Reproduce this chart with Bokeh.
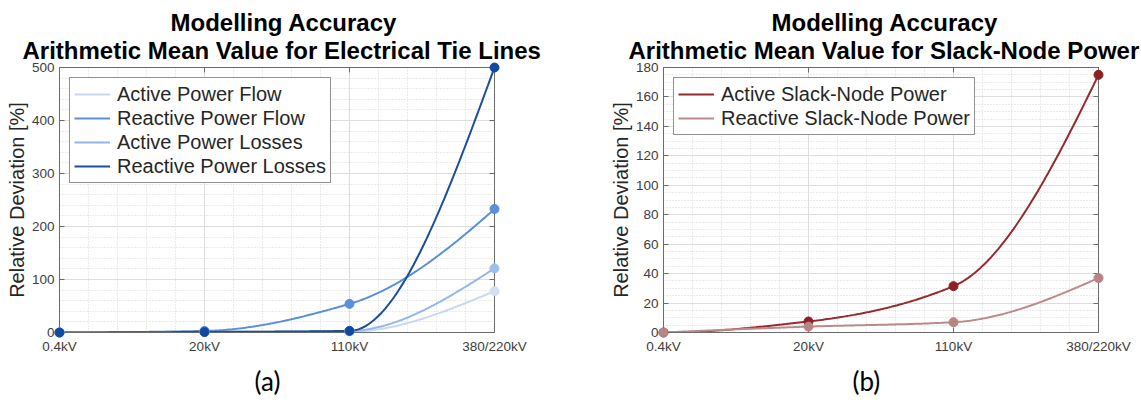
import numpy as np
from bokeh.plotting import figure
from bokeh.models import (Range1d, FixedTicker, SingleIntervalTicker, LinearAxis,
                          Title, Legend, LegendItem, CustomLabelingPolicy)
from bokeh.layouts import row
from bokeh.embed import file_html
from bokeh.resources import INLINE

# ---------------- data ----------------
voltage_levels = ["0.4kV", "20kV", "110kV", "380/220kV"]
level_pos = [0, 1, 2, 3]

# (a) electrical tie lines, relative deviation [%]
active_power_flow = [0.0, 0.5, 1.5, 78.0]
reactive_power_flow = [0.0, 3.0, 54.0, 233.0]
active_power_losses = [0.0, 1.0, 3.0, 121.0]
reactive_power_losses = [0.0, 1.0, 3.0, 500.0]

# (b) slack-node power, relative deviation [%]
active_slack_power = [0.0, 7.5, 31.5, 175.0]
reactive_slack_power = [0.0, 4.0, 7.0, 37.0]

FONT = "Liberation Sans"


def pchip_curve(x, y, n=200):
    """Shape-preserving cubic (as MATLAB pchip) drawn through the data points."""
    x = np.asarray(x, float)
    y = np.asarray(y, float)
    h = np.diff(x)
    delta = np.diff(y) / h
    m = len(x)
    d = np.zeros(m)
    for k in range(1, m - 1):
        if delta[k - 1] * delta[k] > 0:
            w1 = 2 * h[k] + h[k - 1]
            w2 = h[k] + 2 * h[k - 1]
            d[k] = (w1 + w2) / (w1 / delta[k - 1] + w2 / delta[k])

    def end_slope(h0, h1, d0, d1):
        s = ((2 * h0 + h1) * d0 - h0 * d1) / (h0 + h1)
        if np.sign(s) != np.sign(d0):
            s = 0.0
        elif np.sign(d0) != np.sign(d1) and abs(s) > abs(3 * d0):
            s = 3 * d0
        return s

    d[0] = end_slope(h[0], h[1], delta[0], delta[1])
    d[-1] = end_slope(h[-1], h[-2], delta[-1], delta[-2])
    xs = np.linspace(x[0], x[-1], n)
    idx = np.clip(np.searchsorted(x, xs, side="right") - 1, 0, m - 2)
    t = (xs - x[idx]) / h[idx]
    h00 = 2 * t**3 - 3 * t**2 + 1
    h10 = t**3 - 2 * t**2 + t
    h01 = -2 * t**3 + 3 * t**2
    h11 = t**3 - t**2
    ys = h00 * y[idx] + h10 * h[idx] * d[idx] + h01 * y[idx + 1] + h11 * h[idx] * d[idx + 1]
    return xs, ys


def style_axis(ax, show_labels=True):
    ax.axis_line_color = "#6b6b6b"
    ax.axis_line_width = 1
    ax.major_tick_line_color = "#6b6b6b"
    ax.major_tick_in = 5
    ax.major_tick_out = 0
    ax.minor_tick_in = 0
    ax.minor_tick_out = 0
    ax.major_label_text_font = FONT
    ax.major_label_text_color = "#3d3d3d"
    if show_labels:
        ax.major_label_text_font_size = "13.5px"
    else:
        ax.major_label_text_font_size = "0px"
        ax.major_label_standoff = 0
        ax.major_label_policy = CustomLabelingPolicy(code="return new Set()")


def make_fig(width, border_right, ymax, y_step, y_minor,
             title1, title2, t1_off, t2_off, caption, caption_off, series):
    p = figure(width=width, height=412, x_range=Range1d(0, 3), y_range=Range1d(0, ymax),
               output_backend="svg", toolbar_location=None, title_location=None,
               min_border_left=59, min_border_right=border_right,
               min_border_top=67, min_border_bottom=80)
    p.background_fill_color = "white"
    p.border_fill_color = "white"
    p.outline_line_color = "#6b6b6b"

    xticker = FixedTicker(ticks=level_pos, minor_ticks=[i * 0.2 for i in range(16)])
    yticker = SingleIntervalTicker(interval=y_step, num_minor_ticks=y_minor)

    p.xaxis.ticker = xticker
    p.xaxis.major_label_overrides = {i: lab for i, lab in zip(level_pos, voltage_levels)}
    p.yaxis.ticker = yticker
    style_axis(p.xaxis[0])
    style_axis(p.yaxis[0])
    p.xaxis.major_label_standoff = 6
    p.yaxis.major_label_standoff = 5
    p.yaxis.axis_label = "Relative Deviation [%]"
    p.yaxis.axis_label_text_font = FONT
    p.yaxis.axis_label_text_font_size = "20px"
    p.yaxis.axis_label_text_font_style = "normal"
    p.yaxis.axis_label_text_color = "#262626"
    p.yaxis.axis_label_standoff = 1

    top_ax = LinearAxis(ticker=xticker)
    style_axis(top_ax, show_labels=False)
    p.add_layout(top_ax, "above")
    right_ax = LinearAxis(ticker=yticker)
    style_axis(right_ax, show_labels=False)
    p.add_layout(right_ax, "right")

    for g in (p.xgrid[0], p.ygrid[0]):
        g.grid_line_color = "#dedede"
        g.grid_line_width = 1
        g.minor_grid_line_color = "#d6d6d6"
        g.minor_grid_line_dash = "1 2"
        g.minor_grid_line_width = 1
    p.xgrid.ticker = xticker
    p.ygrid.ticker = yticker

    items = []
    for name, vals, col, pcol in series:
        xs, ys = pchip_curve(level_pos, vals)
        r = p.line(xs, ys, line_width=2, line_color=col)
        p.scatter(level_pos, vals, size=9, fill_color=pcol, line_color=pcol, level="overlay")
        items.append(LegendItem(label=name, renderers=[r]))

    leg = Legend(items=items, location="top_left", margin=10, padding=4, spacing=0,
                 label_text_font=FONT, label_text_font_size="20px", label_text_color="#262626",
                 glyph_width=36, glyph_height=24, label_height=24, label_standoff=7,
                 border_line_color="#262626", border_line_width=1,
                 background_fill_color="white", background_fill_alpha=1.0)
    p.add_layout(leg)

    t2 = Title(text=title2, align="left", offset=t2_off, text_font=FONT, text_font_size="24px",
               text_font_style="bold", text_color="black", standoff=8)
    p.add_layout(t2, "above")
    t1 = Title(text=title1, align="left", offset=t1_off, text_font=FONT, text_font_size="24px",
               text_font_style="bold", text_color="black", standoff=-10)
    p.add_layout(t1, "above")

    cap = Title(text=caption, align="left", offset=caption_off, text_font="Lato",
                text_font_size="26px", text_font_style="normal", text_color="black", standoff=12)
    p.add_layout(cap, "below")
    return p


series_a = [
    ("Active Power Flow", active_power_flow, "#c9d8ee", "#d3e0f2"),
    ("Reactive Power Flow", reactive_power_flow, "#5b8fd8", "#5b8fd8"),
    ("Active Power Losses", active_power_losses, "#93b7e8", "#9dbfeb"),
    ("Reactive Power Losses", reactive_power_losses, "#1a4f9e", "#0f4aa0"),
]
series_b = [
    ("Active Slack-Node Power", active_slack_power, "#962a2e", "#8e1f24"),
    ("Reactive Slack-Node Power", reactive_slack_power, "#bb8a8a", "#b88484"),
]

p1 = make_fig(604, 110, 500, 100, 5,
              "Modelling Accuracy", "Arithmetic Mean Value for Electrical Tie Lines",
              111, -37, "(a)", 195, series_a)
p2 = make_fig(537, 43, 180, 20, 4,
              "Modelling Accuracy", "Arithmetic Mean Value for Slack-Node Power",
              108, -35, "(b)", 189, series_b)

layout = row(p1, p2)
open("out.html", "w").write(file_html(layout, INLINE))
